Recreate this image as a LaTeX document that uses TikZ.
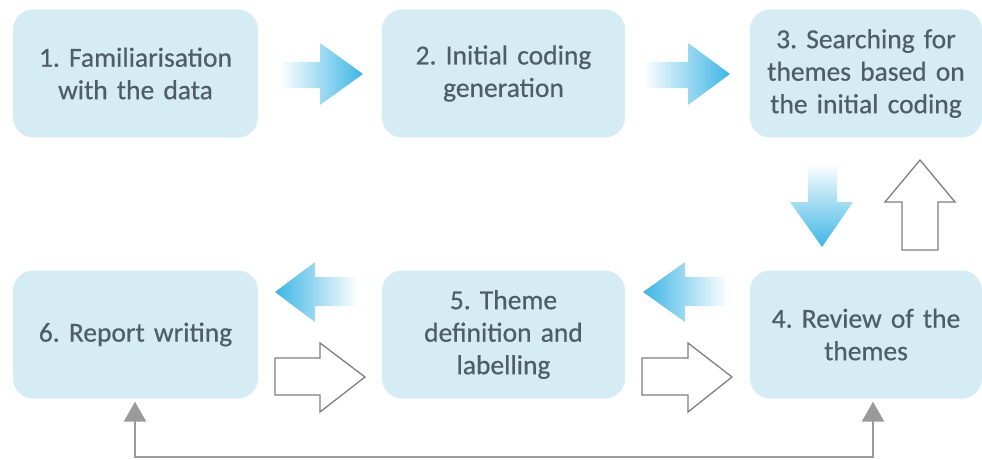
\documentclass[tikz,border=0pt]{standalone}
\usepackage{fontspec}
\setmainfont{Carlito}[FakeBold=0.5]
\usetikzlibrary{arrows.meta}
\definecolor{boxfill}{HTML}{D5ECF5}
\definecolor{boxtext}{HTML}{4E5E64}
\definecolor{flowblue}{HTML}{3DB5E5}
\definecolor{outlinegray}{HTML}{7F7F7F}
\definecolor{loopgray}{HTML}{9A9A9A}
\tikzset{
  stagebox/.style={fill=boxfill, rounded corners=20pt, minimum height=128pt,
    text width=228pt, align=center, text=boxtext, inner sep=0pt,
    font=\fontsize{27.5}{32.5}\selectfont},
  hollowarrow/.style={draw=outlinegray, line width=1.3pt, fill=white, line join=miter},
  loopline/.style={draw=loopgray, line width=2.6pt, {Triangle[length=20pt,width=22pt]}-{Triangle[length=20pt,width=22pt]}}
}
\frenchspacing
\begin{document}
\begin{tikzpicture}[x=1pt, y=-1pt]
\useasboundingbox (0,0) rectangle (982,460);

% the six stages
\node[stagebox, minimum width=245pt] (b1) at (135.5,73.5) {1. Familiarisation\\with the data};
\node[stagebox, minimum width=243pt] (b2) at (503.5,73.5) {2. Initial coding\\generation};
\node[stagebox, minimum width=232pt] (b3) at (866,73.5) {3. Searching for\\themes based on\\the initial coding};
\node[stagebox, minimum width=232pt] (b4) at (866,334.5) {4. Review of the\\themes};
\node[stagebox, minimum width=243pt] (b5) at (503.5,334.5) {5. Theme\\definition and\\labelling};
\node[stagebox, minimum width=245pt] (b6) at (135.5,334.5) {6. Report writing};

% shaded forward arrows
\shade[left color=white, right color=flowblue]
  (280,62) -- (320,62) -- (320,43) -- (363,74) -- (320,105) -- (320,88) -- (280,88) -- cycle;
\shade[left color=white, right color=flowblue]
  (643,62) -- (688,62) -- (688,43) -- (730,74) -- (688,105) -- (688,88) -- (643,88) -- cycle;
\shade[top color=white, bottom color=flowblue]
  (808,163) -- (837,163) -- (837,202) -- (853,202) -- (822,247) -- (790,202) -- (808,202) -- cycle;
\shade[left color=flowblue, right color=white]
  (728,277) -- (685,277) -- (685,262) -- (643,292) -- (685,322) -- (685,306) -- (728,306) -- cycle;
\shade[left color=flowblue, right color=white]
  (358,277) -- (315,277) -- (315,262) -- (275,292) -- (315,322) -- (315,306) -- (358,306) -- cycle;

% hollow return arrows
\draw[hollowarrow]
  (902,250) -- (902,202) -- (885,202) -- (920,160) -- (955,202) -- (938,202) -- (938,250) -- cycle;
\draw[hollowarrow]
  (275,358) -- (320,358) -- (320,343) -- (365,377) -- (320,412) -- (320,395) -- (275,395) -- cycle;
\draw[hollowarrow]
  (642,358) -- (688,358) -- (688,343) -- (732,377) -- (688,412) -- (688,395) -- (642,395) -- cycle;

% loop between review and report writing
\coordinate (loopL) at (135,457);
\coordinate (loopR) at (873,457);
\draw[loopline, shorten <=3pt, shorten >=3pt]
  (b6.south -| loopL) |- (loopR) -- (loopR |- b4.south);
\end{tikzpicture}
\end{document}
